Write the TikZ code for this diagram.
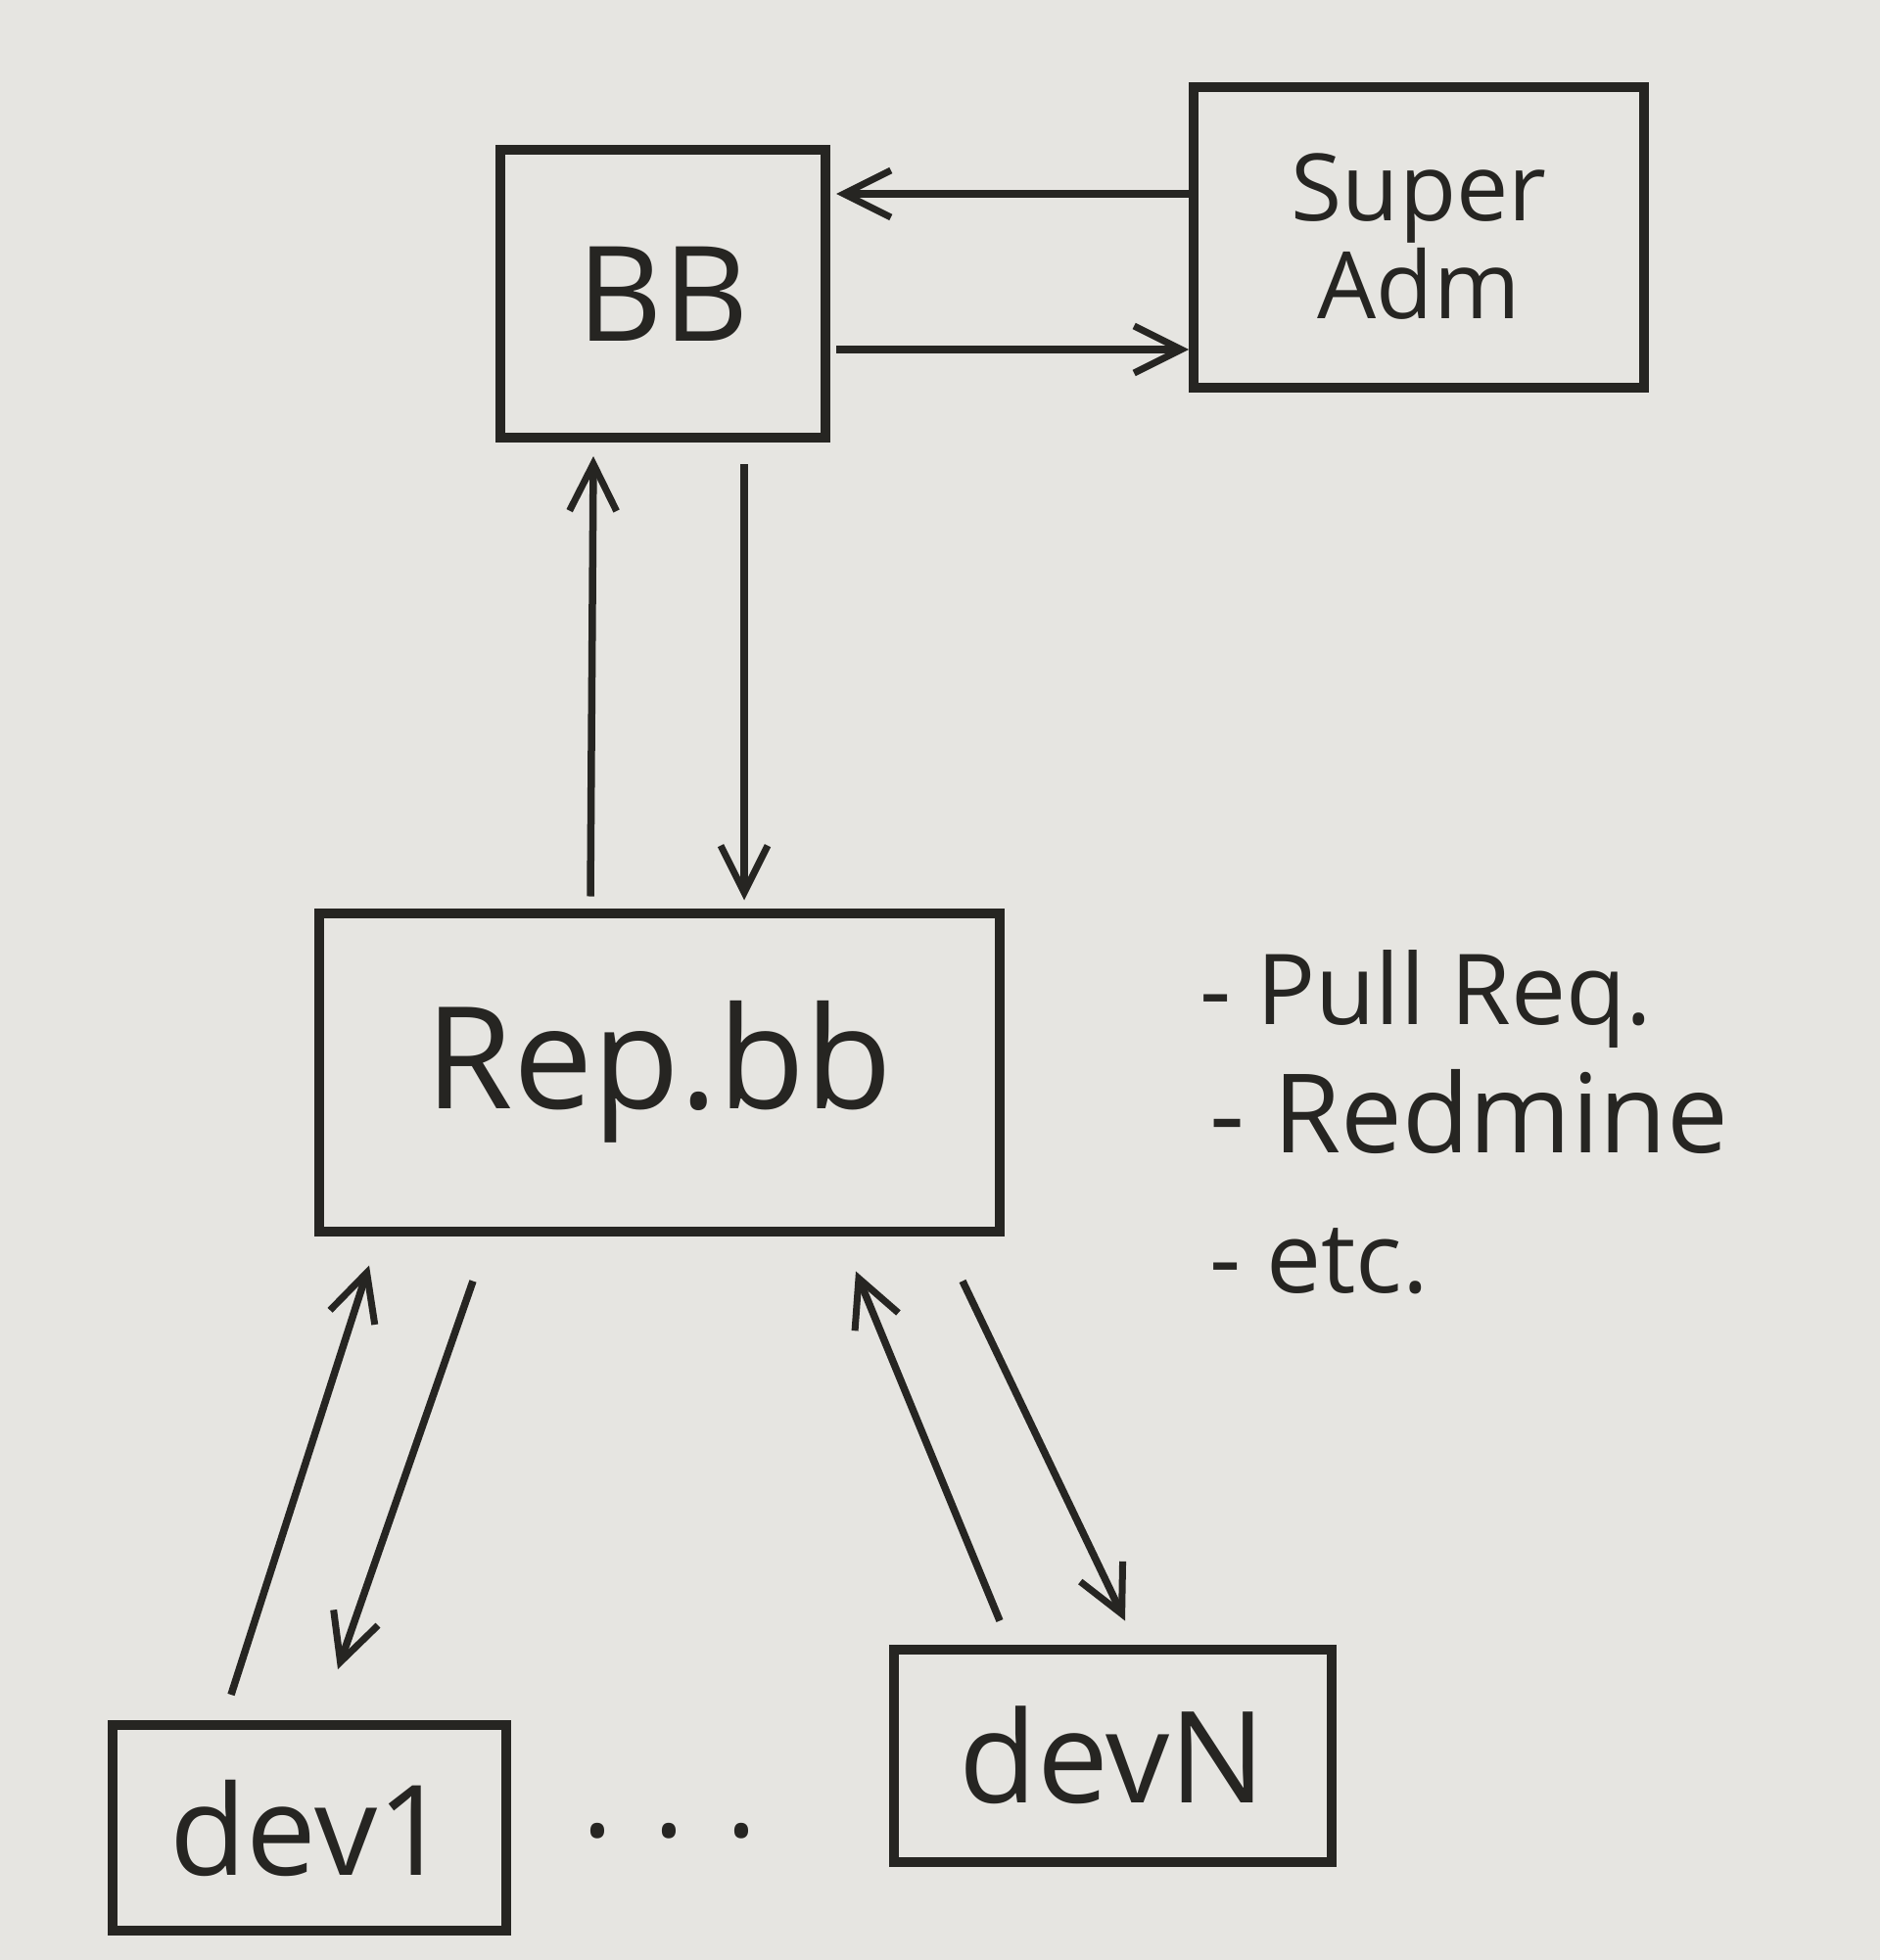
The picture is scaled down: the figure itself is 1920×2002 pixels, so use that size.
\documentclass[tikz,border=0pt]{standalone}
\usepackage{fontspec}
\setmainfont{Open Sans}
\usetikzlibrary{arrows.meta}
\definecolor{paper}{HTML}{E6E5E1}
\definecolor{ink}{HTML}{262522}
\tikzset{
  box/.style={draw=ink, line width=10pt, inner sep=0pt, text=ink, align=center},
  arr/.style={draw=ink, line width=7.5pt, -{Straight Barb[length=48pt,width=48pt,line width=7pt]}},
  lbl/.style={text=ink, inner sep=0pt, anchor=west}
}
\begin{document}
\begin{tikzpicture}[x=1pt,y=-1pt]
\fill[paper] (0,0) rectangle (1920,2002);
\useasboundingbox (0,0) rectangle (1920,2002);

\node[box, minimum width=332pt, minimum height=294pt, font=\fontsize{135}{135}\selectfont] (bb) at (677,300) {BB};
\node[box, minimum width=460pt, minimum height=307pt, font=\fontsize{95}{100}\selectfont] (sa) at (1449,242) {Super\\Adm};
\node[box, minimum width=695pt, minimum height=325pt, font=\fontsize{145}{145}\selectfont] (rep) at (673,1095) {Rep.bb};
\node[box, minimum width=402pt, minimum height=210pt, font=\fontsize{128}{128}\selectfont] (d1) at (316,1867) {dev1};
\node[box, minimum width=447pt, minimum height=217pt, font=\fontsize{130}{130}\selectfont] (dn) at (1136,1793) {devN};

\node[text=ink, font=\fontsize{120}{120}\selectfont] (dots) at (684,1870) {. . .};

\node[lbl, font=\fontsize{100}{100}\selectfont] (l1) at (1225,1021) {- Pull Req.};
\node[lbl, font=\fontsize{112}{112}\selectfont] (l2) at (1235,1135) {- Redmine};
\node[lbl, font=\fontsize{100}{100}\selectfont] (l3) at (1235,1288) {- etc.};

% BB <-> Super Adm
\draw[arr] ([yshift=44pt]sa.west) -- ([xshift=6pt,yshift=102pt]bb.east);
\draw[arr] ([xshift=6pt,yshift=-57pt]bb.east) -- ([yshift=-115pt]sa.west);

% BB <-> Rep.bb
\draw[arr] ([xshift=-70pt,yshift=12pt]rep.north) -- ([xshift=-71pt,yshift=-14pt]bb.south);
\draw[arr] ([xshift=83pt,yshift=-22pt]bb.south) -- ([xshift=87pt,yshift=8pt]rep.north);

% Rep.bb <-> dev1
\draw[arr] ([xshift=-80pt,yshift=26pt]d1.north) -- ([xshift=-296pt,yshift=-30pt]rep.south);
\draw[arr] ([xshift=-190pt,yshift=-46pt]rep.south) -- ([xshift=29pt,yshift=52pt]d1.north);

% Rep.bb <-> devN
\draw[arr] ([xshift=-115pt,yshift=24pt]dn.north) -- ([xshift=201pt,yshift=-36pt]rep.south);
\draw[arr] ([xshift=310pt,yshift=-46pt]rep.south) -- ([xshift=13pt,yshift=24pt]dn.north);
\end{tikzpicture}
\end{document}
